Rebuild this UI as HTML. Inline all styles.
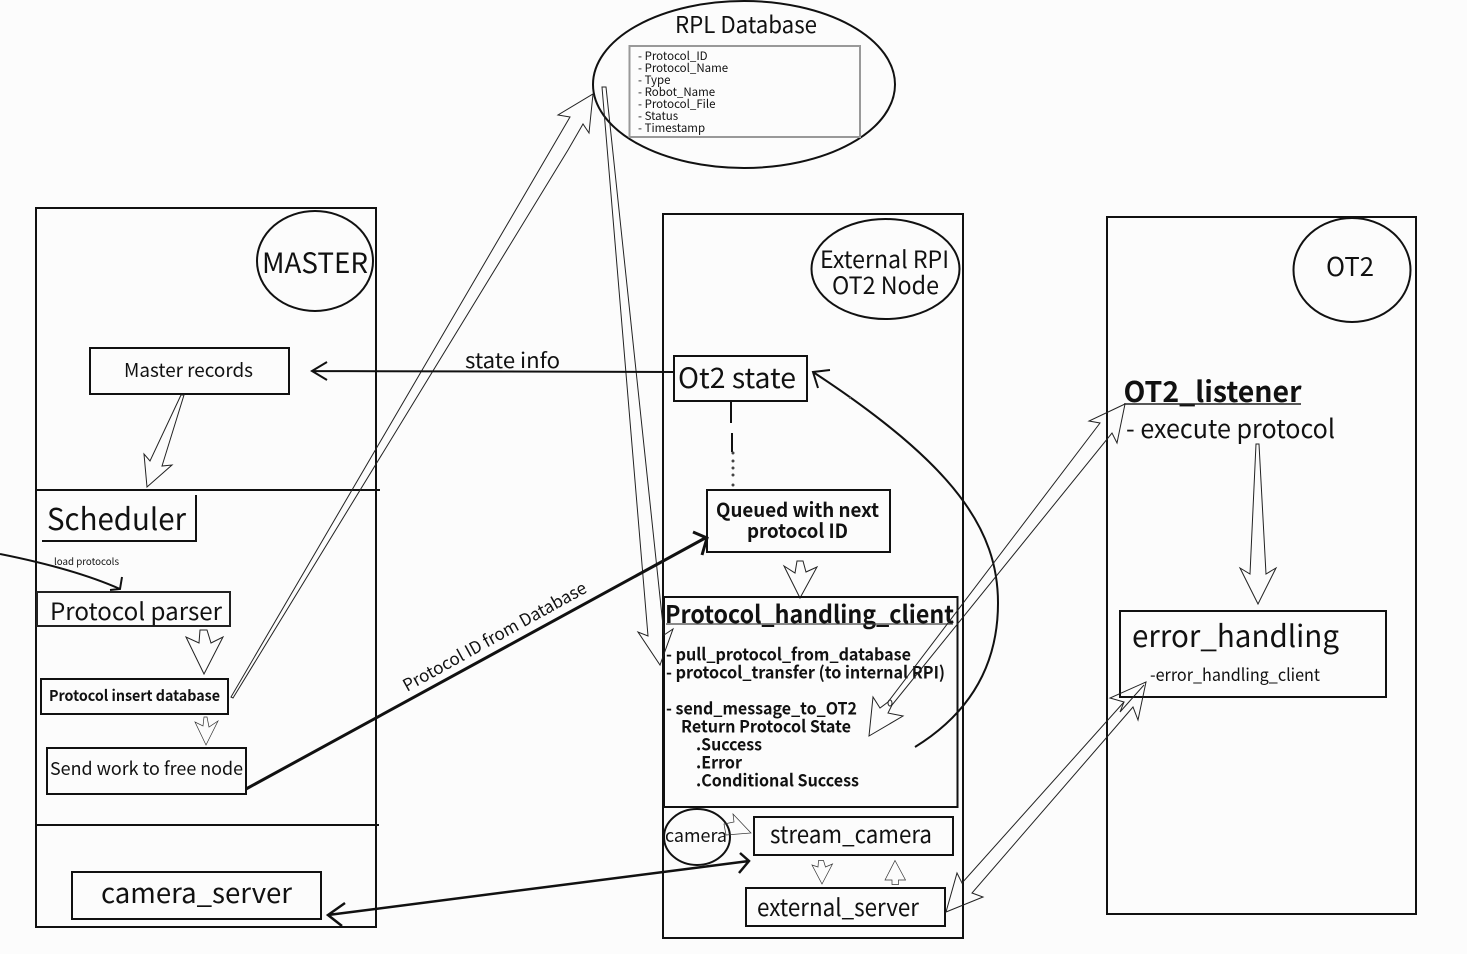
<!DOCTYPE html>
<html>
<head>
<meta charset="utf-8">
<style>
html,body{margin:0;padding:0;background:#fcfcfc;width:1467px;height:954px;overflow:hidden}
svg{display:block}
text{font-family:"Noto Sans CJK JP","Noto Sans CJK SC","Liberation Sans",sans-serif;fill:#111}
.b{font-weight:700}
.box{fill:none;stroke:#111;stroke-width:2}
.thin{fill:none;stroke:#222;stroke-width:1}
.fine{fill:none;stroke:#333;stroke-width:.7}
.line{fill:none;stroke:#111}
</style>
</head>
<body>
<svg width="1467" height="954" viewBox="0 0 1467 954" xmlns="http://www.w3.org/2000/svg">
<!-- main containers -->
<rect class="box" x="36" y="208" width="340" height="719"/>
<rect class="box" x="663" y="214" width="300" height="724"/>
<rect class="box" x="1107" y="217" width="309" height="697"/>
<path class="line" stroke-width="2" d="M36 490H380M35 825H379"/>

<!-- RPL Database -->
<ellipse class="box" cx="744" cy="84.500" rx="151" ry="83.500"/>
<rect x="629.500" y="46" width="230.500" height="91" fill="none" stroke="#999" stroke-width="2"/>
<text x="675" y="33" font-size="23" textLength="142" lengthAdjust="spacingAndGlyphs">RPL Database</text>
<g font-size="11.500">
<text x="638" y="60">- Protocol_ID</text>
<text x="638" y="72">- Protocol_Name</text>
<text x="638" y="84">- Type</text>
<text x="638" y="96">- Robot_Name</text>
<text x="638" y="108">- Protocol_File</text>
<text x="638" y="120">- Status</text>
<text x="638" y="132">- Timestamp</text>
</g>

<!-- MASTER -->
<ellipse class="box" cx="315" cy="261" rx="58" ry="50"/>
<text x="262" y="273" font-size="28" textLength="106" lengthAdjust="spacingAndGlyphs">MASTER</text>
<rect class="box" x="90" y="348" width="199" height="46"/>
<text x="124" y="377" font-size="19" textLength="129" lengthAdjust="spacingAndGlyphs">Master records</text>
<polygon class="thin" points="181,395 150,461 144,454 147,487 172,465 162,466 184,395"/>
<path class="line" stroke-width="2" d="M196 495V541H42"/>
<text x="47" y="530" font-size="30" textLength="139" lengthAdjust="spacingAndGlyphs">Scheduler</text>
<text x="54" y="565" font-size="9.500" textLength="65" lengthAdjust="spacingAndGlyphs">load protocols</text>
<path class="line" stroke-width="2" d="M0 554Q75 569 120 589M122 577L120 589L110 590"/>
<rect x="37" y="592" width="193" height="34" fill="none" stroke="#222" stroke-width="2"/>
<text x="50" y="620" font-size="24" textLength="172" lengthAdjust="spacingAndGlyphs">Protocol parser</text>
<polygon class="thin" points="200,630 207,630 211,643 223,637 204,674 186,637 199,643"/>
<rect class="box" x="41" y="679" width="187" height="35"/>
<text class="b" x="49" y="701" font-size="15" textLength="171" lengthAdjust="spacingAndGlyphs">Protocol insert database</text>
<polygon class="fine" points="204,717 207,717 209,727 218,721 206,745 195,722 203,726"/>
<rect class="box" x="47" y="748" width="199" height="46"/>
<text x="50" y="775" font-size="18" textLength="193" lengthAdjust="spacingAndGlyphs">Send work to free node</text>
<rect class="box" x="72" y="872" width="249" height="47"/>
<text x="101" y="903" font-size="28" textLength="191" lengthAdjust="spacingAndGlyphs">camera_server</text>

<!-- External RPI -->
<ellipse class="box" cx="885.500" cy="269" rx="74" ry="50"/>
<text x="820" y="268" font-size="24" textLength="129" lengthAdjust="spacingAndGlyphs">External RPI</text>
<text x="832" y="294" font-size="24" textLength="107" lengthAdjust="spacingAndGlyphs">OT2 Node</text>
<rect class="box" x="674" y="356" width="133" height="45"/>
<text x="678" y="388" font-size="28" textLength="118" lengthAdjust="spacingAndGlyphs">Ot2 state</text>
<path class="line" stroke-width="2" d="M731 402V423M732 433V452"/>
<g fill="#444"><circle cx="733" cy="453" r="1.500"/><circle cx="733" cy="461" r="1.500"/><circle cx="733" cy="468" r="1.500"/><circle cx="733" cy="475" r="1.500"/><circle cx="733" cy="485" r="1.500"/></g>
<rect class="box" x="707" y="490" width="183" height="62"/>
<text class="b" x="716" y="517" font-size="19.500" textLength="163" lengthAdjust="spacingAndGlyphs">Queued with next</text>
<text class="b" x="747" y="538" font-size="19.500" textLength="101" lengthAdjust="spacingAndGlyphs">protocol ID</text>
<polygon class="thin" points="797,561 803,561 806,572 817,567 800,598 784,566 795,573"/>
<rect class="box" x="664" y="597" width="293.500" height="210"/>
<text class="b" x="665" y="623" font-size="24.500" textLength="289" lengthAdjust="spacingAndGlyphs">Protocol_handling_client</text>
<path d="M666 624H953" stroke="#444" stroke-width="1.200" fill="none"/>
<g class="b" font-size="17">
<text x="666" y="660.500" textLength="245" lengthAdjust="spacingAndGlyphs">- pull_protocol_from_database</text>
<text x="666" y="678.500" textLength="279" lengthAdjust="spacingAndGlyphs">- protocol_transfer (to internal RPI)</text>
<text x="666" y="714.500" textLength="191" lengthAdjust="spacingAndGlyphs">- send_message_to_OT2</text>
<text x="681" y="732.500" textLength="170" lengthAdjust="spacingAndGlyphs">Return Protocol State</text>
<text x="696" y="750.500" textLength="66" lengthAdjust="spacingAndGlyphs">.Success</text>
<text x="696" y="768.500" textLength="46" lengthAdjust="spacingAndGlyphs">.Error</text>
<text x="696" y="786.500" textLength="163" lengthAdjust="spacingAndGlyphs">.Conditional Success</text>
</g>
<ellipse class="box" cx="697" cy="837" rx="33" ry="28"/>
<text x="665" y="842" font-size="18" textLength="62" lengthAdjust="spacingAndGlyphs">camera</text>
<polygon class="fine" points="726,835 751,833 733,814 734,822 724,824"/>
<rect class="box" x="754" y="817" width="199" height="38"/>
<text x="770" y="843" font-size="24" textLength="162" lengthAdjust="spacingAndGlyphs">stream_camera</text>
<rect class="box" x="746" y="888" width="199" height="38"/>
<text x="757" y="916" font-size="24" textLength="162" lengthAdjust="spacingAndGlyphs">external_server</text>
<polygon class="fine" points="818.500,860.500 823.500,860.500 825.500,867 832.500,864 822,884 812,865 818,867"/>
<polygon class="fine" points="895,860.500 905.500,880 898.500,880 898.500,884.500 892,884.500 892,880 885,880"/>

<!-- OT2 -->
<ellipse class="box" cx="1352" cy="270" rx="58.500" ry="52"/>
<text x="1326" y="276" font-size="26" textLength="48" lengthAdjust="spacingAndGlyphs">OT2</text>
<text class="b" x="1123.500" y="402" font-size="28.500" textLength="178" lengthAdjust="spacingAndGlyphs">OT2_listener</text>
<path d="M1124 404H1301" stroke="#222" stroke-width="1.500" fill="none"/>
<text x="1126" y="438" font-size="26" textLength="209" lengthAdjust="spacingAndGlyphs">- execute protocol</text>
<polygon class="thin" points="1256,444 1259,444 1266,574 1276,568 1258,604 1240,568 1250,574"/>
<rect class="box" x="1120" y="611" width="266" height="86"/>
<text x="1132" y="647" font-size="30" textLength="207" lengthAdjust="spacingAndGlyphs">error_handling</text>
<text x="1150" y="681" font-size="17" textLength="170" lengthAdjust="spacingAndGlyphs">-error_handling_client</text>

<!-- connectors -->
<polygon class="thin" points="231,697 233,698 568,150 583,124 589,133 593,94 558,115 570,117"/>
<polygon class="thin" points="602,87 648,636 638,632 660,665 673,629 664,635 606,87"/>
<path class="line" stroke-width="2" d="M674 372L312 371M327 362L312 371L327 380"/>
<text x="465" y="368" font-size="21" textLength="95" lengthAdjust="spacingAndGlyphs">state info</text>
<path class="line" stroke-width="3" d="M246 789L707 537M693 532L707 538L702 555"/>
<text x="0" y="0" font-size="17" textLength="207" lengthAdjust="spacingAndGlyphs" transform="translate(407 692) rotate(-29)">Protocol ID from Database</text>
<path class="line" stroke-width="2" d="M915 747C975 710 998 660 998 603C998 530 955 465 813 372M830 370L813 372L818 388"/>
<circle cx="850" cy="398" r="1" fill="#666"/>
<polygon class="thin" points="1125,404 1089,421 1100,423 888,702 880,708 873,697 869,736 903,716 888,713 892,705 1112,433 1117,443"/>
<ellipse class="thin" cx="890" cy="703" rx="2" ry="3"/>
<path class="line" stroke-width="2.500" d="M328 915L749 861M740 853L749 861L739 873M345 903L328 915L342 926"/>
<polygon class="thin" points="946,912 983,897 972,893 1133,707 1138,720 1146,682 1110,698 1124,702 962,883 957,873"/>
<path class="thin" d="M1120 712L1144 685M1124 702L1120 712"/>
</svg>
</body>
</html>
